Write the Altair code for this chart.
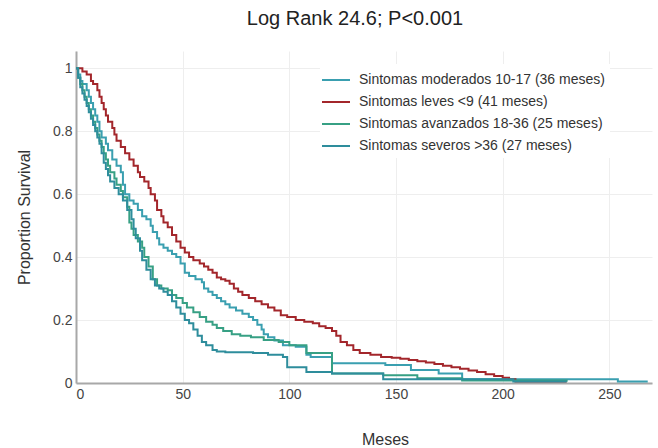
import altair as alt
import pandas as pd

# Kaplan-Meier step curves: time in months, proportion surviving
mod_t = [0, 1, 2, 3, 5, 6, 7, 8, 9, 10, 11, 12, 14, 15, 17, 19, 21, 22, 23, 25, 27, 29, 31, 33, 35, 36, 38, 39, 41, 43, 45, 47, 49, 51, 53, 56, 59, 60, 62, 64, 66, 68, 70, 72, 75, 78, 81, 83, 85, 87, 88, 90, 93, 97, 103, 108, 110, 120, 145, 157, 170, 181, 254, 268]
mod_s = [1.0, 0.98, 0.96, 0.95, 0.93, 0.91, 0.89, 0.87, 0.85, 0.83, 0.8, 0.78, 0.76, 0.74, 0.71, 0.69, 0.67, 0.63, 0.6, 0.58, 0.57, 0.55, 0.53, 0.52, 0.5, 0.48, 0.46, 0.44, 0.43, 0.42, 0.41, 0.4, 0.38, 0.35, 0.34, 0.33, 0.32, 0.3, 0.29, 0.28, 0.27, 0.26, 0.25, 0.24, 0.23, 0.22, 0.21, 0.2, 0.185, 0.17, 0.155, 0.145, 0.135, 0.12, 0.115, 0.09, 0.083, 0.063, 0.057, 0.041, 0.03, 0.012, 0.005, 0.005]

lev_t = [0, 3, 5, 7, 8, 10, 11, 12, 13, 14, 15, 17, 18, 19, 21, 23, 25, 27, 29, 30, 32, 34, 35, 37, 38, 40, 41, 43, 45, 47, 49, 51, 53, 55, 58, 60, 62, 64, 66, 68, 70, 72, 74, 76, 78, 81, 84, 87, 90, 93, 96, 99, 103, 107, 111, 114, 117, 120, 122, 124, 127, 130, 133, 138, 143, 148, 152, 156, 160, 164, 168, 172, 176, 180, 184, 188, 192, 196, 200, 203, 206, 230]
lev_s = [1.0, 0.99, 0.98, 0.96, 0.95, 0.93, 0.91, 0.89, 0.87, 0.85, 0.83, 0.81, 0.79, 0.77, 0.75, 0.73, 0.71, 0.69, 0.67, 0.655, 0.64, 0.62, 0.6, 0.58, 0.55, 0.53, 0.51, 0.495, 0.47, 0.45, 0.43, 0.415, 0.4, 0.39, 0.38, 0.37, 0.36, 0.35, 0.335, 0.33, 0.325, 0.315, 0.3, 0.29, 0.28, 0.27, 0.26, 0.25, 0.24, 0.23, 0.215, 0.21, 0.2, 0.195, 0.19, 0.18, 0.175, 0.165, 0.15, 0.13, 0.12, 0.105, 0.095, 0.09, 0.083, 0.08, 0.077, 0.073, 0.069, 0.065, 0.06, 0.055, 0.05, 0.045, 0.04, 0.035, 0.028, 0.022, 0.017, 0.012, 0.005, 0.005]

ava_t = [0, 1, 2, 3, 4, 5, 6, 7, 8, 9, 10, 11, 12, 13, 14, 15, 16, 18, 19, 21, 22, 24, 25, 26, 27, 29, 31, 32, 34, 36, 38, 40, 43, 45, 47, 50, 52, 55, 58, 61, 64, 66, 69, 73, 77, 82, 88, 95, 100, 108, 120, 144, 160, 181, 230]
ava_s = [1.0, 0.97, 0.95, 0.93, 0.91, 0.89, 0.87, 0.85, 0.83, 0.81, 0.79, 0.77, 0.75, 0.73, 0.71, 0.69, 0.67, 0.65, 0.63, 0.61, 0.59, 0.56, 0.51, 0.49, 0.47, 0.45, 0.43, 0.4, 0.37, 0.33, 0.31, 0.3, 0.295, 0.28, 0.27, 0.254, 0.24, 0.225, 0.21, 0.195, 0.185, 0.175, 0.165, 0.155, 0.15, 0.145, 0.137, 0.13, 0.12, 0.095, 0.03, 0.025, 0.015, 0.008, 0.004]

sev_t = [0, 1, 2, 3, 4, 5, 6, 7, 8, 9, 10, 11, 12, 13, 14, 15, 16, 18, 20, 22, 24, 26, 27, 28, 30, 31, 33, 35, 37, 39, 41, 43, 45, 47, 49, 51, 53, 55, 57, 59, 61, 64, 66, 70, 83, 90, 97, 99, 108, 120, 144, 205, 230]
sev_s = [1.0, 0.97, 0.94, 0.92, 0.9, 0.88, 0.86, 0.84, 0.82, 0.8, 0.78, 0.76, 0.73, 0.7, 0.68, 0.66, 0.64, 0.62, 0.6, 0.58, 0.55, 0.52, 0.49, 0.46, 0.42, 0.39, 0.36, 0.33, 0.31, 0.3, 0.29, 0.28, 0.26, 0.24, 0.22, 0.2, 0.19, 0.17, 0.15, 0.13, 0.12, 0.105, 0.1, 0.098, 0.095, 0.09, 0.083, 0.05, 0.035, 0.03, 0.012, 0.005, 0.005]

groups = [
    "Sintomas moderados 10-17 (36 meses)",
    "Sintomas leves <9 (41 meses)",
    "Sintomas avanzados 18-36 (25 meses)",
    "Sintomas severos >36 (27 meses)",
]
colors = ["#3a9fb0", "#a3262b", "#37a084", "#2e8d9c"]

rows = []
for g, ts, ss in zip(groups, [mod_t, lev_t, ava_t, sev_t], [mod_s, lev_s, ava_s, sev_s]):
    for t, s in zip(ts, ss):
        rows.append({"grupo": g, "meses": t, "surv": s})
df = pd.DataFrame(rows)

FONT = "Liberation Sans"

chart = alt.Chart(df).mark_line(interpolate="step-after", strokeWidth=2).encode(
    x=alt.X("meses:Q", title="Meses",
            scale=alt.Scale(domain=[0, 270], nice=False, zero=False),
            axis=alt.Axis(values=[0, 50, 100, 150, 200, 250], format="d",
                          titlePadding=30, titleX=309)),
    y=alt.Y("surv:Q", title="Proportion Survival",
            scale=alt.Scale(domain=[0, 1.055], nice=False),
            axis=alt.Axis(values=[0, 0.2, 0.4, 0.6, 0.8, 1], format="~g",
                          titlePadding=20)),
    color=alt.Color("grupo:N", sort=groups,
                    scale=alt.Scale(domain=groups, range=colors),
                    legend=alt.Legend(title=None, orient="none", legendX=244, legendY=13,
                                      symbolType="M-1.4,0H1.4", symbolSize=400,
                                      symbolStrokeWidth=2, labelOffset=12, labelLimit=0,
                                      labelFont=FONT, labelFontSize=14, labelColor="#333",
                                      fillColor="white", padding=5, rowPadding=4)),
    order=alt.Order("grupo:N"),
).properties(
    width=576, height=332,
    title=alt.TitleParams("Log Rank 24.6; P<0.001", font=FONT, fontSize=20,
                          fontWeight="normal", color="#222", anchor="middle",
                          offset=22, dx=-9),
    autosize=alt.AutoSizeParams(type="none"),
    padding={"left": 76, "top": 51, "right": 6, "bottom": 65},
).configure_view(stroke=None).configure_axis(
    grid=True, gridColor="#eeeeee", gridWidth=1,
    domainColor="#a8a8a8", domainWidth=2, ticks=False,
    labelFont=FONT, labelFontSize=14, labelColor="#444", labelPadding=4,
    titleFont=FONT, titleFontSize=16, titleFontWeight="normal", titleColor="#333",
)

chart.save("out.html", embed_options={"renderer": "svg", "actions": False})
